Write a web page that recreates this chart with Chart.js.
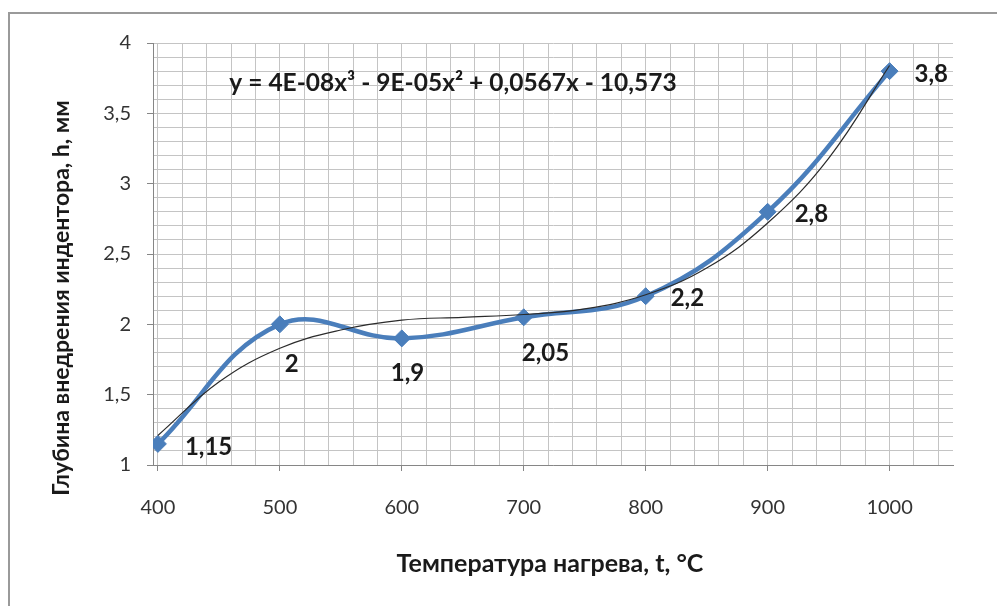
<!DOCTYPE html>
<html>
<head>
<meta charset="utf-8">
<script src="https://cdn.jsdelivr.net/npm/chart.js@4/dist/chart.umd.min.js"></script>
<style>
  html, body { margin: 0; padding: 0; background: #ffffff; }
  #wrap { width: 997px; height: 606px; position: relative; }
</style>
</head>
<body>
<div id="wrap"><canvas id="c" width="997" height="606"></canvas></div>
<script>
// Temperature, °C
const temperatures = [400, 500, 600, 700, 800, 900, 1000];
// Indenter penetration depth, mm
const depths = [1.15, 2, 1.9, 2.05, 2.2, 2.8, 3.8];
// Cubic trend line, sampled every 50 °C
const trendTemps = [400, 450, 500, 550, 600, 650, 700, 750, 800, 850, 900, 950, 1000];
const trendDepths = [1.21, 1.59, 1.83, 1.96, 2.03, 2.05, 2.07, 2.11, 2.21, 2.40, 2.72, 3.18, 3.84];
// Axis ticks
const xTicks = [400, 420, 440, 460, 480, 500, 520, 540, 560, 580, 600, 620, 640, 660, 680, 700, 720, 740, 760, 780, 800, 820, 840, 860, 880, 900, 920, 940, 960, 980, 1000, 1020, 1040];
const xLabelTicks = [400, 500, 600, 700, 800, 900, 1000];
const yTicks = [1, 1.1, 1.2, 1.3, 1.4, 1.5, 1.6, 1.7, 1.8, 1.9, 2, 2.1, 2.2, 2.3, 2.4, 2.5, 2.6, 2.7, 2.8, 2.9, 3, 3.1, 3.2, 3.3, 3.4, 3.5, 3.6, 3.7, 3.8, 3.9, 4];
const yLabelTicks = [1, 1.5, 2, 2.5, 3, 3.5, 4];
// Texts
const xTitle = 'Температура нагрева, t, °C';
const yTitle = 'Глубина внедрения индентора, h, мм';
const equation = 'y = 4E-08x³ - 9E-05x² + 0,0567x - 10,573';

const FONT = 'Lato, "Open Sans", sans-serif';
const fmt = v => String(v).replace('.', ',');
const near = (v, list) => list.some(t => Math.abs(t - v) < 1e-6);

// label offsets (left edge, vertical centre) relative to each marker
const labelOffsets = [[27, 3], [5, 40], [-11, 35], [-2, 36], [25, 2], [27, 2], [25, 3]];

const decorPlugin = {
  id: 'decor',
  beforeDraw(chart) {
    const ctx = chart.ctx;
    ctx.save();
    ctx.fillStyle = '#ffffff';
    ctx.fillRect(0, 0, chart.width, chart.height);
    ctx.strokeStyle = '#9a9a9a';
    ctx.lineWidth = 2;
    ctx.strokeRect(9, 13, 1100, 800);
    ctx.restore();
  },
  afterDatasetsDraw(chart) {
    const ctx = chart.ctx;
    ctx.save();
    // value labels
    const meta = chart.getDatasetMeta(1);
    ctx.fillStyle = '#1a1a1a';
    ctx.font = 'bold 24px ' + FONT;
    ctx.textAlign = 'left';
    ctx.textBaseline = 'middle';
    meta.data.forEach((pt, i) => {
      const [dx, dy] = labelOffsets[i];
      ctx.fillText(fmt(depths[i]), pt.x + dx, pt.y + dy);
    });
    // trend equation
    ctx.font = 'bold 24.5px ' + FONT;
    ctx.textAlign = 'center';
    ctx.fillText(equation, 453, 83);
    // axis titles
    ctx.font = 'bold 25px ' + FONT;
    ctx.fillText(xTitle, 550, 564);
    ctx.font = 'bold 23px ' + FONT;
    ctx.translate(62, 298);
    ctx.rotate(-Math.PI / 2);
    ctx.fillText(yTitle, 0, 0);
    ctx.restore();
  }
};

new Chart(document.getElementById('c'), {
  type: 'line',
  data: {
    datasets: [
      {
        label: 'trend',
        data: trendTemps.map((t, i) => ({ x: t, y: trendDepths[i] })),
        borderColor: '#2b2b2b',
        borderWidth: 1.2,
        pointRadius: 0,
        tension: 0.4,
        fill: false,
        order: 0
      },
      {
        label: 'h',
        data: temperatures.map((t, i) => ({ x: t, y: depths[i] })),
        borderColor: '#4a7ebb',
        borderWidth: 4.5,
        pointStyle: 'rectRot',
        pointRadius: 8.5,
        pointBackgroundColor: '#4a7ebb',
        pointBorderColor: '#4a7ebb',
        pointBorderWidth: 1,
        tension: 0.4,
        fill: false,
        order: 1
      }
    ]
  },
  options: {
    responsive: false,
    animation: false,
    devicePixelRatio: 1,
    layout: { padding: { left: 0, top: 43, right: 44, bottom: 0 } },
    plugins: { legend: { display: false }, tooltip: { enabled: false } },
    scales: {
      x: {
        type: 'linear',
        min: 396,
        max: 1052,
        afterBuildTicks: s => { s.ticks = xTicks.map(v => ({ value: v })); },
        afterFit: s => { s.height = 141; },
        grid: {
          color: '#c4c4c4',
          lineWidth: 1,
          tickLength: 6,
          tickColor: c => near(c.tick.value, xLabelTicks) ? '#868686' : 'rgba(0,0,0,0)'
        },
        border: { color: '#868686', width: 1 },
        ticks: {
          autoSkip: false,
          maxRotation: 0,
          padding: 25,
          color: '#333333',
          font: { family: FONT, size: 20 },
          callback: v => near(v, xLabelTicks) ? String(v) : ''
        }
      },
      y: {
        type: 'linear',
        min: 1,
        max: 4,
        afterBuildTicks: s => { s.ticks = yTicks.map(v => ({ value: v })); },
        afterFit: s => { s.width = 153; },
        grid: {
          color: '#c4c4c4',
          lineWidth: 1,
          tickLength: 6,
          tickColor: c => near(c.tick.value, yLabelTicks) ? '#868686' : 'rgba(0,0,0,0)'
        },
        border: { color: '#868686', width: 1 },
        ticks: {
          autoSkip: false,
          padding: 16,
          color: '#333333',
          font: { family: FONT, size: 20 },
          callback: v => near(v, yLabelTicks) ? fmt(Math.round(v * 10) / 10) : ''
        }
      }
    }
  },
  plugins: [decorPlugin]
});
</script>
</body>
</html>
